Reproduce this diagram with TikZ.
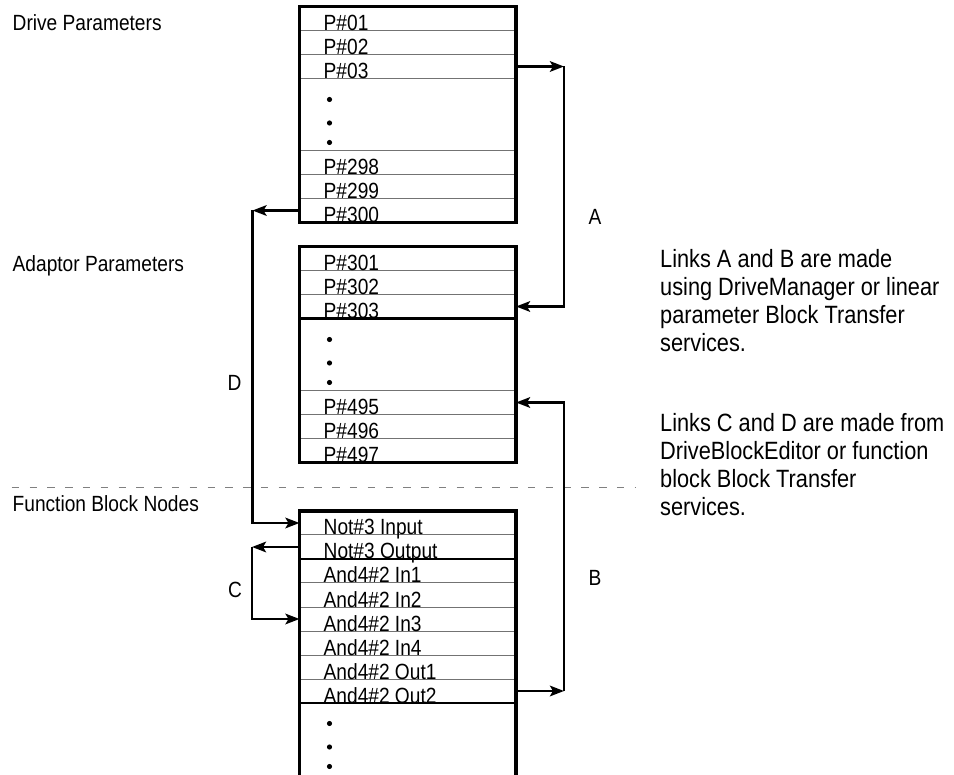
\documentclass[tikz,border=0pt]{standalone}
\usepackage{fontspec}
\setmainfont{Liberation Sans}[FakeStretch=0.87]
\usetikzlibrary{arrows.meta}
\begin{document}
\begin{tikzpicture}[x=1pt,y=-1pt,
  rowbox/.style={draw=black!55, line width=1pt, minimum width=216.5pt, minimum height=24pt, inner sep=0pt, outer sep=0pt, anchor=north west},
  dotbox/.style={rowbox, minimum height=72pt},
  lbl/.style={anchor=base west, inner sep=0pt, font=\fontsize{22}{26}\selectfont},
  sidelbl/.style={anchor=base west, inner sep=0pt, font=\fontsize{22}{26}\selectfont},
  letter/.style={inner sep=0pt, font=\fontsize{22}{26}\selectfont},
  note/.style={anchor=north west, inner sep=0pt, align=left, font=\fontsize{25}{28.2}\selectfont},
  border/.style={line width=3.4pt, line join=miter},
  sepline/.style={line width=2.8pt},
  link/.style={line width=2.9pt, -{Stealth[length=14pt,width=10.5pt,inset=3pt]}},
  dotmark/.style={fill=black}
]
\useasboundingbox (0,0) rectangle (954,775);

% dashed divider
\draw[black!50, line width=1pt, dash pattern=on 7.5pt off 10.3pt] (11.7,487.5) coordinate (dl) -- (635,487.5) coordinate (dr);

% ---------- Drive parameters table ----------
\node[rowbox] (r01) at (299.5,6.5) {};
\node[rowbox] (r02) at (r01.south west) {};
\node[rowbox] (r03) at (r02.south west) {};
\node[dotbox] (rd1) at (r03.south west) {};
\node[rowbox] (r298) at (rd1.south west) {};
\node[rowbox] (r299) at (r298.south west) {};
\node[rowbox] (r300) at (r299.south west) {};
\draw[border] (r01.north west) rectangle (r300.south east);
\node[lbl] (t01) at ([xshift=24pt]r01.south west) {P\#01};
\node[lbl] (t02) at ([xshift=24pt]r02.south west) {P\#02};
\node[lbl] (t03) at ([xshift=24pt]r03.south west) {P\#03};
\node[lbl] (t298) at ([xshift=24pt]r298.south west) {P\#298};
\node[lbl] (t299) at ([xshift=24pt]r299.south west) {P\#299};
\node[lbl] (t300) at ([xshift=24pt]r300.south west) {P\#300};
\foreach \d in {21,44.5,64} \fill[dotmark] ([xshift=30pt,yshift=-\d pt]rd1.north west) circle (2.6pt);

% ---------- Adaptor parameters table ----------
\node[rowbox] (r301) at (299.5,246.5) {};
\node[rowbox] (r302) at (r301.south west) {};
\node[rowbox] (r303) at (r302.south west) {};
\node[dotbox] (rd2) at (r303.south west) {};
\node[rowbox] (r495) at (rd2.south west) {};
\node[rowbox] (r496) at (r495.south west) {};
\node[rowbox] (r497) at (r496.south west) {};
\draw[sepline] (r303.south west) -- (r303.south east);
\draw[border] (r301.north west) rectangle (r497.south east);
\node[lbl] (t301) at ([xshift=24pt]r301.south west) {P\#301};
\node[lbl] (t302) at ([xshift=24pt]r302.south west) {P\#302};
\node[lbl] (t303) at ([xshift=24pt]r303.south west) {P\#303};
\node[lbl] (t495) at ([xshift=24pt]r495.south west) {P\#495};
\node[lbl] (t496) at ([xshift=24pt]r496.south west) {P\#496};
\node[lbl] (t497) at ([xshift=24pt]r497.south west) {P\#497};
\foreach \d in {21,44.5,64} \fill[dotmark] ([xshift=30pt,yshift=-\d pt]rd2.north west) circle (2.6pt);

% ---------- Function block nodes table ----------
\node[rowbox] (n3i) at (299.5,511) {};
\node[rowbox] (n3o) at (n3i.south west) {};
\node[rowbox] (in1) at (n3o.south west) {};
\node[rowbox] (in2) at (in1.south west) {};
\node[rowbox] (in3) at (in2.south west) {};
\node[rowbox] (in4) at (in3.south west) {};
\node[rowbox] (o1) at (in4.south west) {};
\node[rowbox] (o2) at (o1.south west) {};
\coordinate (fbbl) at (299.5,775);
\coordinate (fbbr) at (516,775);
\draw[sepline] (n3o.south west) -- (n3o.south east);
\draw[sepline] (o2.south west) -- (o2.south east);
\draw[border] (fbbl) -- (n3i.north west) -- (n3i.north east) -- (fbbr);
\node[lbl] (tn3i) at ([xshift=24pt]n3i.south west) {Not\#3 Input};
\node[lbl] (tn3o) at ([xshift=24pt]n3o.south west) {Not\#3 Output};
\node[lbl] (tin1) at ([xshift=24pt]in1.south west) {And4\#2 In1};
\node[lbl] (tin2) at ([xshift=24pt]in2.south west) {And4\#2 In2};
\node[lbl] (tin3) at ([xshift=24pt]in3.south west) {And4\#2 In3};
\node[lbl] (tin4) at ([xshift=24pt]in4.south west) {And4\#2 In4};
\node[lbl] (to1) at ([xshift=24pt]o1.south west) {And4\#2 Out1};
\node[lbl] (to2) at ([xshift=24pt]o2.south west) {And4\#2 Out2};
\foreach \d in {20.5,44,63.5} \fill[dotmark] ([xshift=30pt,yshift=-\d pt]o2.south west) circle (2.6pt);

% ---------- side labels ----------
\node[sidelbl] (ldrive) at (12.5,31) {Drive Parameters};
\node[sidelbl] (ladapt) at (12.5,271.5) {Adaptor Parameters};
\node[sidelbl] (lfunc) at (12.5,511.5) {Function Block Nodes};

% ---------- links ----------
\coordinate (cA) at ([xshift=48pt]r03.east);
\coordinate (cB) at ([xshift=48pt]o2.east);
\coordinate (cD) at ([xshift=-47pt]r300.west);
\coordinate (cC) at ([xshift=-47.5pt]n3o.west);
\draw[link] (r03.east) -- (cA);
\draw[link] (cA) |- (r303.east);
\draw[link] (o2.east) -- (cB);
\draw[link] (cB) |- (r495.east);
\draw[link] (r300.west) -- (cD);
\draw[link] (cD) |- (n3i.west);
\draw[link] (n3o.west) -- (cC);
\draw[link] (cC) |- (in3.west);

\node[letter] (la) at (595,217) {A};
\node[letter] (lb) at (595,578) {B};
\node[letter] (lc) at (235,590) {C};
\node[letter] (ld) at (234.5,383) {D};

% ---------- notes ----------
\node[note] (noteab) at (660,249) {Links A and B are made\\using DriveManager or linear\\parameter Block Transfer\\services.};
\node[note] (notecd) at (660,413) {Links C and D are made from\\DriveBlockEditor or function\\block Block Transfer\\services.};
\end{tikzpicture}
\end{document}
